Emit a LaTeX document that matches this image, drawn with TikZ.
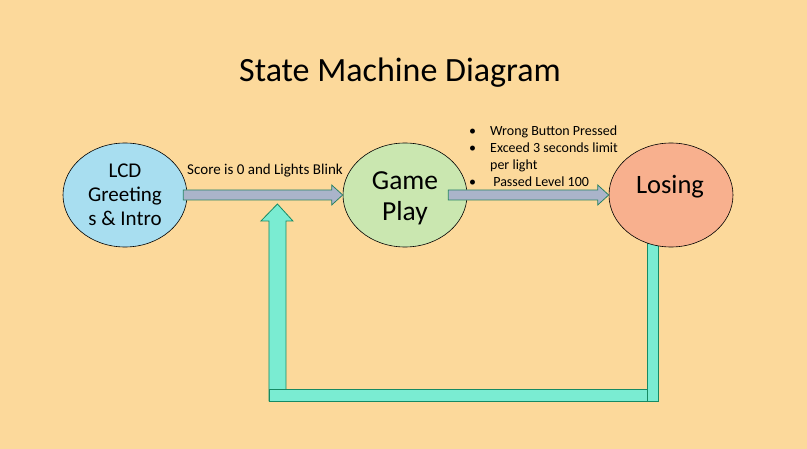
\documentclass[tikz,border=0pt]{standalone}
\usepackage{fontspec}
\setmainfont{Carlito}
\usetikzlibrary{shapes.geometric, positioning, calc, backgrounds}
\definecolor{bgpeach}{RGB}{252,217,155}
\definecolor{lcdblue}{RGB}{168,222,240}
\definecolor{playgreen}{RGB}{202,231,176}
\definecolor{losered}{RGB}{248,176,142}
\definecolor{flowgray}{RGB}{170,180,202}
\definecolor{flowline}{RGB}{40,130,100}
\definecolor{backcyan}{RGB}{122,236,210}
\definecolor{backline}{RGB}{22,138,100}

\begin{document}
\begin{tikzpicture}[x=1pt, y=-1pt,
	state/.style={ellipse, draw=black, line width=0.6pt, minimum width=124pt, minimum height=104pt, inner sep=0pt, align=center},
	flow/.style={draw=flowline, fill=flowgray, line width=0.8pt},
	back/.style={draw=backline, fill=backcyan, line width=0.8pt}]
	\useasboundingbox (0,0) rectangle (807,449);
	\node[font=\fontsize{34}{40}\selectfont] (title) at (400,73) {State Machine Diagram};
	\node[state, fill=lcdblue, font=\fontsize{21}{24}\selectfont] (lcd) at (125,195) {LCD\\Greeting\\s \& Intro};
	\node[state, fill=playgreen] (play) at (405,195) {};
	\node[state, fill=losered] (lose) at (671,195) {};
	\node[align=center, font=\fontsize{27.5}{31}\selectfont] (playtxt) at (405,198) {Game\\Play};
	\node[font=\fontsize{26.5}{31}\selectfont] (losetxt) at (670,187) {Losing};
	% transitions
	\foreach \a/\b/\s in {lcd/play/4, play/lose/19}{\draw[flow] ($(\a.east)+(-\s,-5)$) -- ($(\b.west)+(-11,-5)$) -- ($(\b.west)+(-11,-10)$) -- (\b.west) -- ($(\b.west)+(-11,10)$) -- ($(\b.west)+(-11,5)$) -- ($(\a.east)+(-\s,5)$) -- cycle;}
	\node[font=\fontsize{15}{17}\selectfont] (score) at (265,171) {Score is 0 and Lights Blink};
	\node[anchor=north west, inner sep=0pt, font=\fontsize{14}{17}\selectfont] (why) at (469,123) {\begin{tabular}{@{}l@{\hspace{14pt}}l@{}}\textbullet & Wrong Button Pressed\\ \textbullet & Exceed 3 seconds limit\\ & per light\\ \textbullet & \ Passed Level 100\end{tabular}};
	\coordinate (tip) at ($(lcd.east)!0.58!(play.west)+(0,9)$);
	% way back to the start
	\begin{scope}[on background layer]
		\fill[bgpeach] (0,0) rectangle (807,449);
		\draw[back] ($(tip)+(-8.5,197)$) -- ($(tip)+(-8.5,17)$) -- ($(tip)+(-16.5,17)$) -- (tip) -- ($(tip)+(15.5,17)$) -- ($(tip)+(8.5,17)$) -- ($(tip)+(8.5,197)$) -- cycle;
		\draw[back] ($(tip)+(-8.5,185)$) rectangle (658,401);
		\draw[back] ($(lose.south)+(-24,-30)$) rectangle (658,401);
	\end{scope}
\end{tikzpicture}
\end{document}
